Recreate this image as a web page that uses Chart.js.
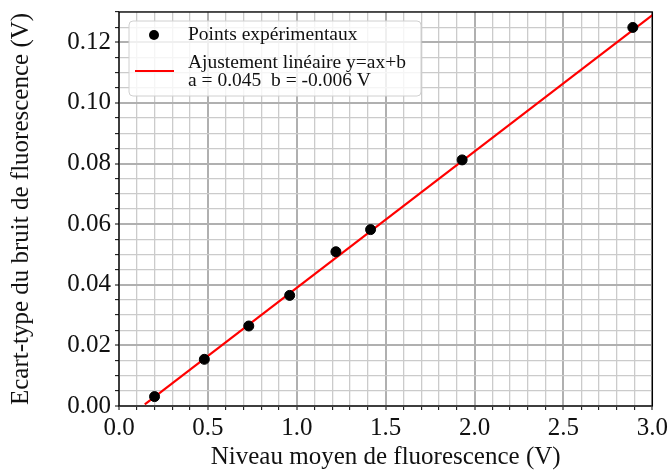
<!DOCTYPE html>
<html>
<head>
<meta charset="utf-8">
<script src="https://cdn.jsdelivr.net/npm/chart.js@4/dist/chart.umd.min.js"></script>
<style>
  html, body { margin: 0; padding: 0; background: #fff; }
  #wrap { width: 671px; height: 476px; }
</style>
</head>
<body>
<div id="wrap"><canvas id="fluo_chart" width="671" height="476"></canvas></div>
<script>
// mesures : niveau moyen (V) et ecart-type du bruit (V)
var niveau = [0.20, 0.48, 0.73, 0.96, 1.22, 1.415, 1.93, 2.89];
var ecartType = [0.0031, 0.0154, 0.0264, 0.0365, 0.0509, 0.0582, 0.0812, 0.1249];

// droite d'ajustement y = ax + b (a = 0.045, b = -0.006)
var fitX = [0.145, 3.0];
var fitY = [0.0005, 0.129];

var legendLabels = ["Points expérimentaux", "Ajustement linéaire y=ax+b", "a = 0.045  b = -0.006 V"];

var serif = "'Liberation Serif', 'DejaVu Serif', serif";
var textColor = "#111";

function isMajor(v, step) {
  var r = v / step;
  return Math.abs(r - Math.round(r)) < 1e-6;
}

var framePlugin = {
  id: "frameAndLegend",
  afterDraw: function(chart) {
    var ctx = chart.ctx;
    var a = chart.chartArea;
    ctx.save();
    ctx.strokeStyle = "#000";
    ctx.lineWidth = 1.3;
    ctx.strokeRect(a.left, a.top, a.right - a.left, a.bottom - a.top);

    // legende
    var lx = a.left + 10, ly = a.top + 9, lw = 292, lh = 75, r = 4;
    ctx.beginPath();
    ctx.moveTo(lx + r, ly);
    ctx.arcTo(lx + lw, ly, lx + lw, ly + lh, r);
    ctx.arcTo(lx + lw, ly + lh, lx, ly + lh, r);
    ctx.arcTo(lx, ly + lh, lx, ly, r);
    ctx.arcTo(lx, ly, lx + lw, ly, r);
    ctx.closePath();
    ctx.fillStyle = "rgba(255,255,255,0.8)";
    ctx.fill();
    ctx.strokeStyle = "#d0d0d0";
    ctx.lineWidth = 1;
    ctx.stroke();

    ctx.fillStyle = "#000";
    ctx.beginPath();
    ctx.arc(lx + 25, ly + 14, 5, 0, Math.PI * 2);
    ctx.fill();

    ctx.strokeStyle = "#ff0000";
    ctx.lineWidth = 2;
    ctx.beginPath();
    ctx.moveTo(lx + 6, ly + 50);
    ctx.lineTo(lx + 45, ly + 50);
    ctx.stroke();

    ctx.fillStyle = textColor;
    ctx.font = "19.5px " + serif;
    ctx.textBaseline = "middle";
    ctx.textAlign = "left";
    ctx.fillText(legendLabels[0], lx + 59, ly + 14);
    ctx.fillText(legendLabels[1], lx + 59, ly + 42);
    ctx.fillText(legendLabels[2], lx + 59, ly + 60);
    ctx.restore();
  }
};

var pts = niveau.map(function(x, i) { return { x: x, y: ecartType[i] }; });
var fit = fitX.map(function(x, i) { return { x: x, y: fitY[i] }; });

var ctx = document.getElementById("fluo_chart").getContext("2d");
var fluoChart = new Chart(ctx, {
  type: "scatter",
  data: {
    datasets: [{
      label: "Points expérimentaux",
      data: pts,
      backgroundColor: "#000",
      borderColor: "#000",
      pointRadius: 5,
      pointHoverRadius: 5,
      order: 0
    }, {
      label: "Ajustement linéaire",
      type: "line",
      data: fit,
      borderColor: "#ff0000",
      borderWidth: 2.2,
      pointRadius: 0,
      fill: false,
      order: 1
    }]
  },
  plugins: [framePlugin],
  options: {
    responsive: false,
    animation: false,
    events: [],
    layout: { padding: { top: 12, right: 18, left: 0, bottom: 0 } },
    plugins: { legend: { display: false }, tooltip: { enabled: false } },
    scales: {
      x: {
        type: "linear",
        min: 0,
        max: 3.0,
        afterFit: function(scale) { scale.height = 70; },
        border: { display: false },
        grid: {
          color: function(c) { return isMajor(c.tick.value, 0.5) ? "#b0b0b0" : "#cbcbcb"; },
          lineWidth: function(c) { return isMajor(c.tick.value, 0.5) ? 2 : 1.3; },
          tickColor: "#000",
          tickWidth: 1,
          tickLength: 4
        },
        ticks: {
          stepSize: 0.1,
          autoSkip: false,
          maxRotation: 0,
          maxTicksLimit: 100,
          padding: 3,
          color: textColor,
          font: { family: serif, size: 25 },
          callback: function(v) { return isMajor(v, 0.5) ? v.toFixed(1) : ""; }
        },
        title: {
          display: true,
          text: "Niveau moyen de fluorescence (V)",
          color: textColor,
          font: { family: serif, size: 25 },
          padding: { top: 0, bottom: 4 }
        }
      },
      y: {
        type: "linear",
        min: 0,
        max: 0.13,
        afterFit: function(scale) {
          scale.width = 119;
          scale.paddingTop = 0;
        },
        border: { display: false },
        grid: {
          color: function(c) { return isMajor(c.tick.value, 0.02) ? "#b0b0b0" : "#cbcbcb"; },
          lineWidth: function(c) { return isMajor(c.tick.value, 0.02) ? 2 : 1.3; },
          tickColor: "#000",
          tickWidth: 1,
          tickLength: 4
        },
        ticks: {
          stepSize: 0.005,
          autoSkip: false,
          maxTicksLimit: 100,
          padding: 4,
          color: textColor,
          font: { family: serif, size: 25 },
          callback: function(v) { return isMajor(v, 0.02) ? v.toFixed(2) : ""; }
        },
        title: {
          display: true,
          text: "Ecart-type du bruit de fluorescence (V)",
          color: textColor,
          font: { family: serif, size: 25 },
          padding: { top: 6, bottom: 0 }
        }
      }
    }
  }
});
</script>
</body>
</html>
